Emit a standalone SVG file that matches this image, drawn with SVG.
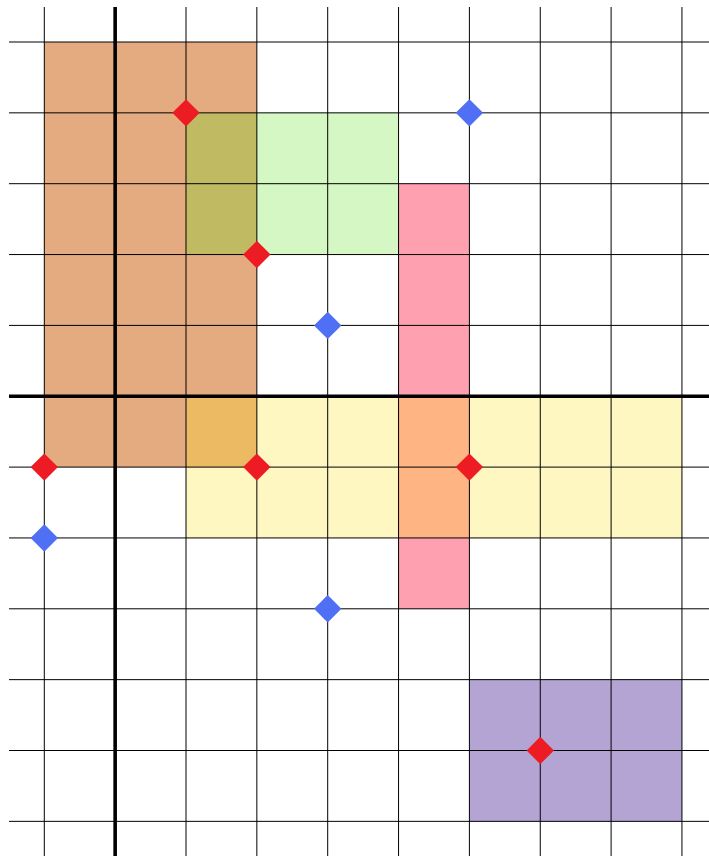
<svg xmlns="http://www.w3.org/2000/svg" width="709" height="856" viewBox="0 0 709 856">
  <style>
    .grid line { stroke: #000; stroke-width: 1; }
    .axis { stroke: #000; stroke-width: 3.6; }
    .red { fill: #ED1C24; }
    .blue { fill: #4F6FF5; }
  </style>
  <defs>
    <polygon id="dia" points="0,-13.7 13.7,0 0,13.7 -13.7,0"/>
  </defs>
  <rect width="709" height="856" fill="#fff"/>
  <g id="regions">
    <rect id="orange" x="44.3" y="42" width="212.55" height="425.1" fill="#E4AA80"/>
    <rect id="green" x="186" y="112.85" width="212.55" height="141.7" fill="#D4F7C4"/>
    <rect id="olive" x="186" y="112.85" width="70.85" height="141.7" fill="#C0BA62"/>
    <rect id="yellow" x="186" y="396.25" width="495.95" height="141.7" fill="#FFF7C2"/>
    <rect id="orange-yellow" x="186" y="396.25" width="70.85" height="70.85" fill="#EBBA62"/>
    <rect id="pink" x="398.55" y="183.7" width="70.85" height="425.1" fill="#FFA0B0"/>
    <rect id="pink-yellow" x="398.55" y="396.25" width="70.85" height="141.7" fill="#FFB483"/>
    <rect id="purple" x="469.4" y="679.65" width="212.55" height="141.7" fill="#B4A4D4"/>
  </g>
  <g id="grid" class="grid">
    <line x1="44.3" y1="7" x2="44.3" y2="856"/>
    <line x1="186" y1="7" x2="186" y2="856"/>
    <line x1="256.85" y1="7" x2="256.85" y2="856"/>
    <line x1="327.7" y1="7" x2="327.7" y2="856"/>
    <line x1="398.55" y1="7" x2="398.55" y2="856"/>
    <line x1="469.4" y1="7" x2="469.4" y2="856"/>
    <line x1="540.25" y1="7" x2="540.25" y2="856"/>
    <line x1="611.1" y1="7" x2="611.1" y2="856"/>
    <line x1="681.95" y1="7" x2="681.95" y2="856"/>
    <line x1="9" y1="42" x2="709" y2="42"/>
    <line x1="9" y1="112.85" x2="709" y2="112.85"/>
    <line x1="9" y1="183.7" x2="709" y2="183.7"/>
    <line x1="9" y1="254.55" x2="709" y2="254.55"/>
    <line x1="9" y1="325.4" x2="709" y2="325.4"/>
    <line x1="9" y1="467.1" x2="709" y2="467.1"/>
    <line x1="9" y1="537.95" x2="709" y2="537.95"/>
    <line x1="9" y1="608.8" x2="709" y2="608.8"/>
    <line x1="9" y1="679.65" x2="709" y2="679.65"/>
    <line x1="9" y1="750.5" x2="709" y2="750.5"/>
    <line x1="9" y1="821.35" x2="709" y2="821.35"/>
  </g>
  <g id="axes">
    <line class="axis" x1="115.15" y1="7" x2="115.15" y2="856"/>
    <line class="axis" x1="9" y1="396.25" x2="709" y2="396.25"/>
  </g>
  <g id="red-points" class="red">
    <use href="#dia" x="186" y="112.85"/>
    <use href="#dia" x="256.85" y="254.55"/>
    <use href="#dia" x="44.3" y="467.1"/>
    <use href="#dia" x="256.85" y="467.1"/>
    <use href="#dia" x="469.4" y="467.1"/>
    <use href="#dia" x="540.25" y="750.5"/>
  </g>
  <g id="blue-points" class="blue">
    <use href="#dia" x="469.4" y="112.85"/>
    <use href="#dia" x="327.7" y="325.4"/>
    <use href="#dia" x="44.3" y="537.95"/>
    <use href="#dia" x="327.7" y="608.8"/>
  </g>
</svg>
